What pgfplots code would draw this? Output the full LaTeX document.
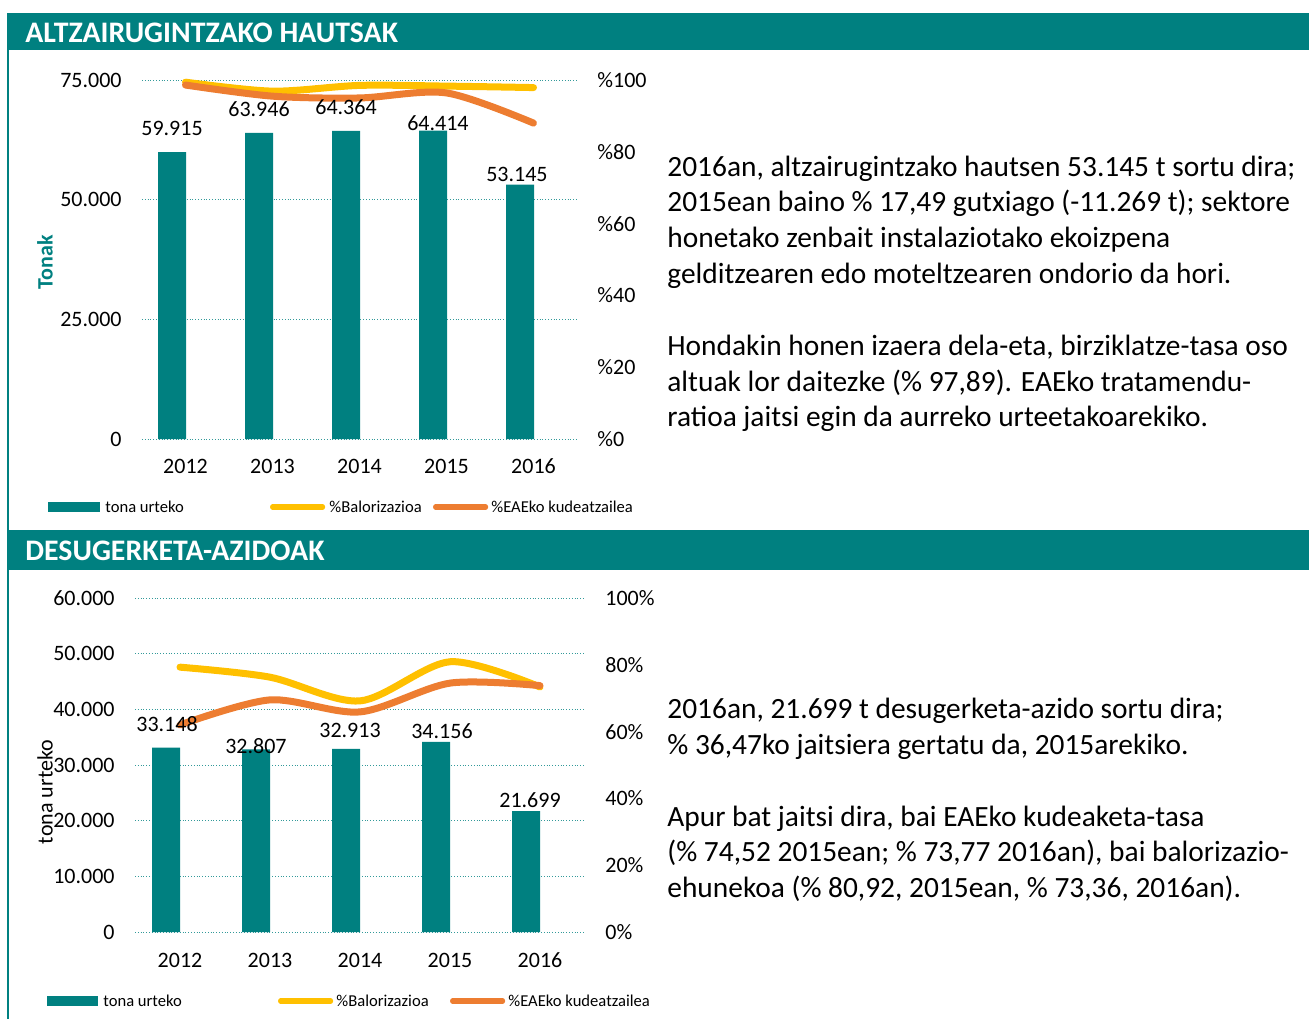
\documentclass[border=0pt]{standalone}
\usepackage{pgfplots}
\pgfplotsset{compat=1.18}
\usepackage{fontspec}
\setmainfont{Carlito}
\definecolor{tealc}{RGB}{0,128,128}
\definecolor{yelc}{RGB}{255,192,0}
\definecolor{orac}{RGB}{237,125,49}
\newcommand\fT{\fontsize{14.7pt}{17.5pt}\selectfont}
\newcommand\fH{\fontsize{14.9pt}{17.5pt}\selectfont}
\newcommand\fA{\fontsize{11pt}{13pt}\selectfont}
\newcommand\fL{\fontsize{8.3pt}{10pt}\selectfont}
\pgfplotsset{
  base/.style={
    anchor=south west, scale only axis,
    xmin=-0.5, xmax=4.5,
    axis line style={draw=none}, major tick length=0pt,
    tick label style={font=\fA, inner sep=0pt},
    scaled y ticks=false,
  },
  leftax/.style={base,
    axis x line*=bottom, axis y line*=left,
    xtick={0,1,2,3,4}, xticklabels={2012,2013,2014,2015,2016},
    xticklabel style={text height=7pt, text depth=0pt},
    yticklabel style={xshift=-10pt},
    ymajorgrids, major grid style={densely dotted, tealc!80, line width=0.5pt},
  },
  rightax/.style={base,
    axis x line=none, axis y line*=right,
    yticklabel style={anchor=west, xshift=10pt},
    clip=false,
  },
  barst/.style={ybar, fill=tealc, draw=none, bar width=14pt},
  yl/.style={smooth, color=yelc, line width=3.5pt, line cap=round, line join=round},
  ol/.style={smooth, color=orac, line width=3.5pt, line cap=round, line join=round},
}
\begin{document}
\begin{tikzpicture}
\useasboundingbox (0,0) rectangle (654.5pt,-509.5pt);
% frames
\fill[tealc] (3.5pt,-6.5pt) rectangle (654.5pt,-25pt);
\fill[tealc] (3.5pt,-25pt) rectangle (4.6pt,-509.5pt);
\fill[tealc] (3.5pt,-265pt) rectangle (654.5pt,-285pt);
\node[anchor=west, text=white, inner sep=0pt, font=\fH\bfseries] at (12.5pt,-16.3pt) {ALTZAIRUGINTZAKO HAUTSAK};
\node[anchor=west, text=white, inner sep=0pt, font=\fH\bfseries] at (12.5pt,-275.3pt) {DESUGERKETA-AZIDOAK};

% ===== chart 1 =====
\begin{axis}[leftax, at={(71pt,-219.5pt)}, width=217.5pt, height=179.5pt,
  ymin=0, ymax=75000, ytick={0,25000,50000,75000},
  yticklabels={0,25.000,50.000,75.000},
  xticklabel style={yshift=-10pt}]
\addplot[barst, bar shift=-6.75pt] coordinates {(0,59915) (1,63946) (2,64364) (3,64414) (4,53145)};
\end{axis}
\begin{axis}[rightax, at={(71pt,-219.5pt)}, width=217.5pt, height=179.5pt,
  ymin=0, ymax=100, ytick={0,20,40,60,80,100},
  yticklabels={\%0,\%20,\%40,\%60,\%80,\%100}]
\addplot[yl] coordinates {(0,99.4) (1,96.9) (2,98.5) (3,98.3) (4,97.89)};
\addplot[ol] coordinates {(0,98.6) (1,95.5) (2,95.0) (3,96.4) (4,88.0)};
\node[font=\fA, inner sep=0pt] at (axis cs:-0.155,86.6) {59.915};
\node[font=\fA, inner sep=0pt] at (axis cs:0.845,91.9) {63.946};
\node[font=\fA, inner sep=0pt] at (axis cs:1.845,92.5) {64.364};
\node[font=\fA, inner sep=0pt] at (axis cs:2.902,88.0) {64.414};
\node[font=\fA, inner sep=0pt] at (axis cs:3.810,73.8) {53.145};
\end{axis}
\node[rotate=90, text=tealc, font=\fA\bfseries, inner sep=0pt] at (22.5pt,-131pt) {Tonak};
% legend 1
\fill[tealc] (24pt,-251pt) rectangle (50pt,-256pt);
\node[anchor=base west, font=\fL, inner sep=0pt] at (52.5pt,-256pt) {tona urteko};
\draw[yelc, line width=2.6pt, line cap=round] (136.3pt,-253.5pt) -- (161.3pt,-253.5pt);
\node[anchor=base west, font=\fL, inner sep=0pt] at (164.5pt,-256pt) {\%Balorizazioa};
\draw[orac, line width=2.6pt, line cap=round] (217.8pt,-253.5pt) -- (242.8pt,-253.5pt);
\node[anchor=base west, font=\fL, inner sep=0pt] at (245.5pt,-256pt) {\%EAEko kudeatzailea};

% ===== chart 2 =====
\begin{axis}[leftax, at={(67.5pt,-466pt)}, width=225pt, height=167pt,
  ymin=0, ymax=60000, ytick={0,10000,20000,30000,40000,50000,60000},
  yticklabels={0,10.000,20.000,30.000,40.000,50.000,60.000},
  xticklabel style={yshift=-10.5pt}]
\addplot[barst, bar shift=-7pt] coordinates {(0,33148) (1,32807) (2,32913) (3,34156) (4,21699)};
\end{axis}
\begin{axis}[rightax, at={(67.5pt,-466pt)}, width=225pt, height=167pt,
  ymin=0, ymax=100, ytick={0,20,40,60,80,100},
  yticklabels={0\%,20\%,40\%,60\%,80\%,100\%}]
\addplot[yl] coordinates {(0,79.3) (1,76.3) (2,69.2) (3,80.92) (4,73.36)};
\addplot[ol] coordinates {(0,62.0) (1,69.5) (2,65.9) (3,74.52) (4,73.77)};
\node[font=\fA, inner sep=0pt] at (axis cs:-0.144,62.3) {33.148};
\node[font=\fA, inner sep=0pt] at (axis cs:0.844,55.7) {32.807};
\node[font=\fA, inner sep=0pt] at (axis cs:1.889,60.5) {32.913};
\node[font=\fA, inner sep=0pt] at (axis cs:2.911,60.2) {34.156};
\node[font=\fA, inner sep=0pt] at (axis cs:3.889,39.5) {21.699};
\end{axis}
\node[rotate=90, font=\fA, inner sep=0pt] at (22.5pt,-396pt) {tona urteko};
% legend 2
\fill[tealc] (23.5pt,-498pt) rectangle (49pt,-503pt);
\node[anchor=base west, font=\fL, inner sep=0pt] at (51.5pt,-503pt) {tona urteko};
\draw[yelc, line width=2.6pt, line cap=round] (140.3pt,-500.5pt) -- (165.3pt,-500.5pt);
\node[anchor=base west, font=\fL, inner sep=0pt] at (168pt,-503pt) {\%Balorizazioa};
\draw[orac, line width=2.6pt, line cap=round] (226.3pt,-500.5pt) -- (251.3pt,-500.5pt);
\node[anchor=base west, font=\fL, inner sep=0pt] at (254pt,-503pt) {\%EAEko kudeatzailea};

% ===== paragraphs =====
\begin{scope}[every node/.style={anchor=base west, font=\fT, inner sep=0pt}]
\node at (333.5pt,-88.2pt) {2016an, altzairugintzako hautsen 53.145 t sortu dira;};
\node at (333.5pt,-105.9pt) {2015ean baino \% 17,49 gutxiago (-11.269 t); sektore};
\node at (333.5pt,-123.7pt) {honetako zenbait instalaziotako ekoizpena};
\node at (333.5pt,-141.6pt) {gelditzearen edo moteltzearen ondorio da hori.};
\node at (333.5pt,-177.6pt) {Hondakin honen izaera dela-eta, birziklatze-tasa oso};
\node at (333.5pt,-195.5pt) {altuak lor daitezke (\% 97,89). EAEko tratamendu-};
\node at (333.5pt,-213.2pt) {ratioa jaitsi egin da aurreko urteetakoarekiko.};
\node at (333.5pt,-359.2pt) {2016an, 21.699 t desugerketa-azido sortu dira;};
\node at (333.5pt,-377.2pt) {\% 36,47ko jaitsiera gertatu da, 2015arekiko.};
\node at (333.5pt,-413.2pt) {Apur bat jaitsi dira, bai EAEko kudeaketa-tasa};
\node at (333.5pt,-430.7pt) {(\% 74,52 2015ean; \% 73,77 2016an), bai balorizazio-};
\node at (333.5pt,-448.7pt) {ehunekoa (\% 80,92, 2015ean, \% 73,36, 2016an).};
\end{scope}
\end{tikzpicture}
\end{document}
